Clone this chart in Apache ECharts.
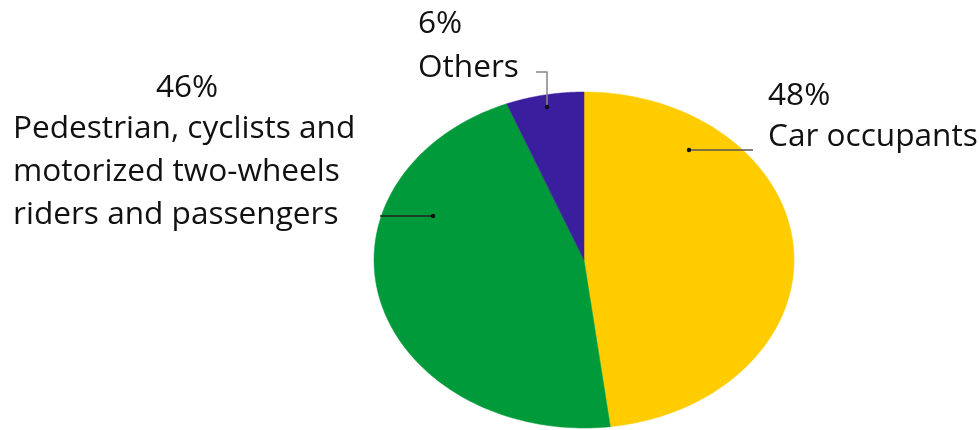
<!DOCTYPE html>
<html>
<head>
<meta charset="utf-8">
<script src="https://cdn.jsdelivr.net/npm/echarts@6/dist/echarts.min.js"></script>
<style>
  html, body { margin: 0; padding: 0; background: #fff; }
  #chart { width: 979px; height: 430px; }
</style>
</head>
<body>
<div id="chart"></div>
<script>
  // slices go clockwise from 12 o'clock
  const categories = ['Car occupants', 'Pedestrian, cyclists and\nmotorized two-wheels\nriders and passengers', 'Others'];
  const shares = [48, 46, 6];
  const sliceColors = ['#FFCC00', '#009A3A', '#3A1E9E'];

  // label placement (text + leader line from a dot inside the slice)
  const labelFont = '"Open Sans", sans-serif';
  const labelSize = 31.6;
  const labelLine = 43;

  let acc = 0;
  const sliceData = shares.map((v, i) => {
    const item = { value: [v, acc], itemStyle: { color: sliceColors[i] } };
    acc += v;
    return item;
  });

  const chart = echarts.init(document.getElementById('chart'));

  function txt(text, x, y, align) {
    return {
      type: 'text', x: x, y: y, z: 100,
      style: {
        text: text, x: 0, y: 0, fill: '#111',
        font: labelSize + 'px ' + labelFont,
        lineHeight: labelLine, align: align || 'left', verticalAlign: 'top'
      }
    };
  }
  function leader(points, color) {
    const end = points[0];
    return [
      { type: 'polyline', z: 100, shape: { points: points }, style: { stroke: color, lineWidth: 1.5, fill: null } },
      { type: 'circle', z: 101, shape: { cx: end[0], cy: end[1], r: 2.2 }, style: { fill: '#111' } }
    ];
  }

  const option = {
    animation: false,
    grid: { left: 374, top: 92, width: 420, height: 336 },
    xAxis: { type: 'value', min: -1, max: 1, show: false },
    yAxis: { type: 'value', min: -1, max: 1, show: false },
    series: [{
      type: 'custom',
      z: 1,
      data: sliceData,
      renderItem: function (params, api) {
        const start = api.value(1) / 100 * Math.PI * 2;
        const end = (api.value(1) + api.value(0)) / 100 * Math.PI * 2;
        const pts = [api.coord([0, 0])];
        const n = 120;
        for (let i = 0; i <= n; i++) {
          const a = start + (end - start) * i / n;
          pts.push(api.coord([Math.sin(a), Math.cos(a)]));
        }
        const c = sliceColors[params.dataIndex];
        return { type: 'polygon', shape: { points: pts }, style: { fill: c, stroke: c, lineWidth: 0.5 } };
      }
    }],
    graphic: [
      // Car occupants
      txt(shares[0] + '%', 768, 74),
      txt(categories[0], 768, 115),
      ...leader([[689, 150], [753, 150]], '#555'),
      // Pedestrian...
      txt(shares[1] + '%', 187, 66, 'center'),
      txt(categories[1], 13, 107),
      ...leader([[433, 216], [380, 216]], '#222'),
      // Others
      txt(shares[2] + '%', 418, 2),
      txt(categories[2], 418, 46),
      ...leader([[547, 107], [547, 72], [536, 72]], '#888')
    ]
  };
  chart.setOption(option);
</script>
</body>
</html>
